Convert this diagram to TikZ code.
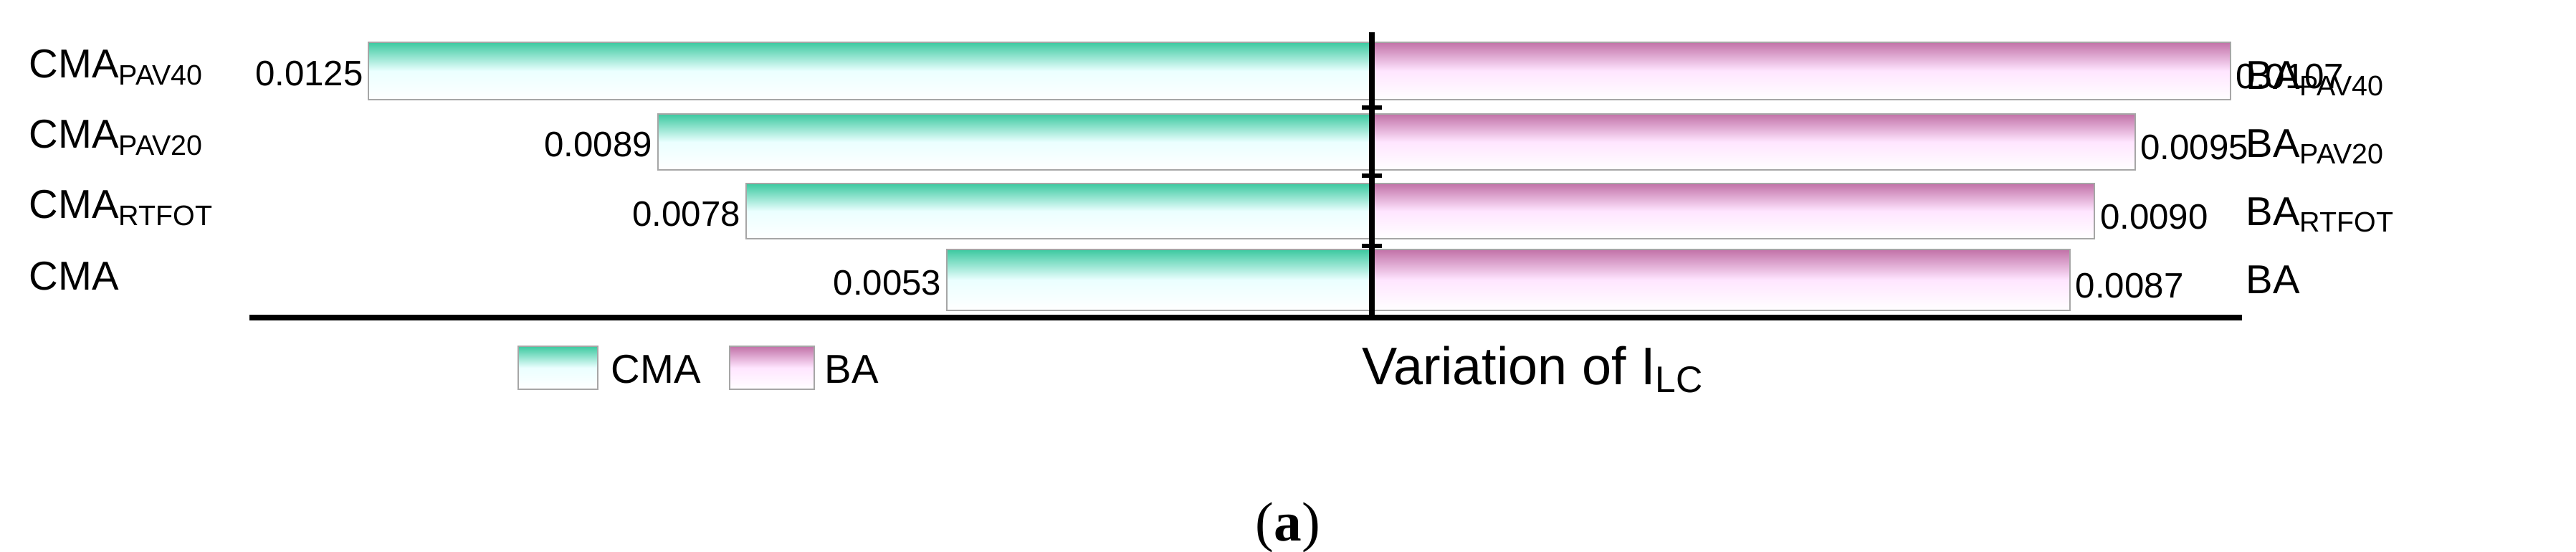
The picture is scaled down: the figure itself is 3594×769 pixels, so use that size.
\documentclass[tikz,border=0pt]{standalone}
\usepackage{fontspec}
\setmainfont{Liberation Sans}
\newfontfamily\serifa{Liberation Serif}
\definecolor{tealtop}{HTML}{3CC9A0}
\definecolor{pinktop}{HTML}{C272A8}
\begin{document}
\begin{tikzpicture}[x=0.01cm,y=-0.01cm,
  cmabar/.style={draw=gray!70,line width=0.6pt,top color=tealtop,bottom color=white,middle color=cyan!8},
  babar/.style={draw=gray!70,line width=0.6pt,top color=pinktop,bottom color=white,middle color=magenta!10},
  lbl/.style={font=\fontsize{16}{18}\selectfont,inner sep=0pt},
  val/.style={font=\fontsize{14}{16}\selectfont,inner sep=2pt}]
\useasboundingbox (0,0) rectangle (3594,769);
\foreach \t/\b/\c/\a/\n in {59/139/0.0125/0.0107/1,159/237/0.0089/0.0095/2,256/333/0.0078/0.0090/3,348/433/0.0053/0.0087/4}{
  \pgfmathsetmacro{\xl}{1914-1120*(\c*100)}
  \pgfmathsetmacro{\xr}{1914+1120*(\a*100)}
  \path[cmabar] (\xl,\t) rectangle (1914,\b);
  \path[babar] (1914,\t) rectangle (\xr,\b);
  \node[val,anchor=east] (cv\n) at (\xl,{(\t+\b)/2+4}) {\c};
  \node[val,anchor=west] (bv\n) at (\xr,{(\t+\b)/2+8}) {\a};
}
\draw[line width=2.2pt] (1914,45) -- (1914,443);
\foreach \y in {150,245,343}{\draw[line width=1.6pt] (1900,\y) -- (1928,\y);}
\draw[line width=2.2pt] (348,443) -- (3128,443);
\node[lbl,anchor=west] (l1) at (40,94) {CMA\textsubscript{PAV40}};
\node[lbl,anchor=west] (l2) at (40,192) {CMA\textsubscript{PAV20}};
\node[lbl,anchor=west] (l3) at (40,290) {CMA\textsubscript{RTFOT}};
\node[lbl,anchor=west] (l4) at (40,385) {CMA};
\node[lbl,anchor=west] (r1) at (3133,110) {BA\textsubscript{PAV40}};
\node[lbl,anchor=west] (r2) at (3133,205) {BA\textsubscript{PAV20}};
\node[lbl,anchor=west] (r3) at (3133,300) {BA\textsubscript{RTFOT}};
\node[lbl,anchor=west] (r4) at (3133,390) {BA};
\path[cmabar] (723,483) rectangle (834,543);
\node[lbl,anchor=west] (lc) at (852,515) {CMA};
\path[babar] (1018,483) rectangle (1136,543);
\node[lbl,anchor=west] (lb) at (1150,515) {BA};
\node[anchor=west,inner sep=0pt,font=\fontsize{21}{24}\selectfont] (ax) at (1900,515) {Variation of I\textsubscript{LC}};
\node[font=\serifa\fontsize{22}{26}\selectfont] (cap) at (1797,736) {(\textbf{a})};
\end{tikzpicture}
\end{document}
